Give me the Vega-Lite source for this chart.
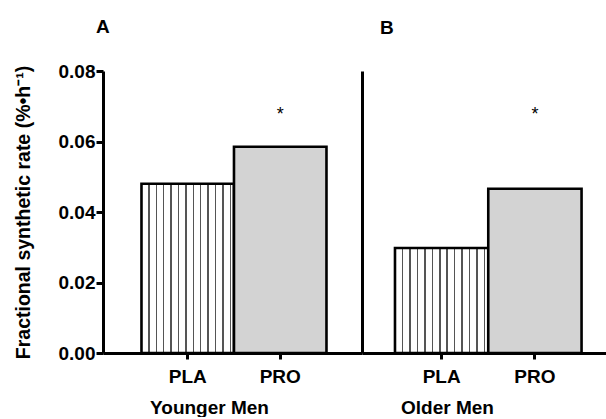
{
  "$schema": "https://vega.github.io/schema/vega-lite/v6.json",
  "background": "white",
  "padding": {"left": 13, "top": 18, "right": 0, "bottom": 0},
  "data": {
    "values": [
      {"group": "Younger Men", "treatment": "PLA", "fsr": 0.048, "sig": ""},
      {"group": "Younger Men", "treatment": "PRO", "fsr": 0.0585, "sig": "*"},
      {"group": "Older Men", "treatment": "PLA", "fsr": 0.0298, "sig": ""},
      {"group": "Older Men", "treatment": "PRO", "fsr": 0.0466, "sig": "*"}
    ]
  },
  "spacing": 0,
  "hconcat": [
    {
      "title": {"text": "A", "anchor": "start", "frame": "group", "dx": -7, "offset": 25},
      "width": 259,
      "height": 282,
      "transform": [{"filter": "datum.group === 'Younger Men'"}],
      "encoding": {
        "x": {
          "field": "treatment", "type": "nominal", "sort": ["PLA", "PRO"],
          "scale": {"paddingInner": 0, "paddingOuter": 0.4, "align": 0.52},
          "axis": {"title": "Younger Men", "labelAngle": 0, "tickSize": 6, "labelPadding": 8, "titlePadding": 12, "titleX": 106}
        }
      },
      "layer": [
        {
          "mark": {"type": "bar", "stroke": "black", "strokeWidth": 2.6},
          "encoding": {
            "y": {
              "field": "fsr", "type": "quantitative",
              "scale": {"domain": [0, 0.08], "nice": false},
              "axis": {"title": "Fractional synthetic rate  (%•h⁻¹)", "titleFontSize": 19.5, "values": [0, 0.02, 0.04, 0.06, 0.08], "format": ".2f", "tickSize": 7, "labelPadding": 1, "titlePadding": 25}
            },
            "fill": {
              "condition": {
                "test": "datum.treatment === 'PLA'",
                "value": {
                  "gradient": "linear", "x1": 0, "x2": 1, "y1": 0, "y2": 0,
                  "stops": [
                    {"offset": 0, "color": "white"},
                    {"offset": 0.072, "color": "white"}, {"offset": 0.072, "color": "#555555"}, {"offset": 0.088, "color": "#555555"}, {"offset": 0.088, "color": "white"},
                    {"offset": 0.152, "color": "white"}, {"offset": 0.152, "color": "#555555"}, {"offset": 0.168, "color": "#555555"}, {"offset": 0.168, "color": "white"},
                    {"offset": 0.232, "color": "white"}, {"offset": 0.232, "color": "#555555"}, {"offset": 0.248, "color": "#555555"}, {"offset": 0.248, "color": "white"},
                    {"offset": 0.312, "color": "white"}, {"offset": 0.312, "color": "#555555"}, {"offset": 0.328, "color": "#555555"}, {"offset": 0.328, "color": "white"},
                    {"offset": 0.392, "color": "white"}, {"offset": 0.392, "color": "#555555"}, {"offset": 0.408, "color": "#555555"}, {"offset": 0.408, "color": "white"},
                    {"offset": 0.472, "color": "white"}, {"offset": 0.472, "color": "#555555"}, {"offset": 0.488, "color": "#555555"}, {"offset": 0.488, "color": "white"},
                    {"offset": 0.552, "color": "white"}, {"offset": 0.552, "color": "#555555"}, {"offset": 0.568, "color": "#555555"}, {"offset": 0.568, "color": "white"},
                    {"offset": 0.632, "color": "white"}, {"offset": 0.632, "color": "#555555"}, {"offset": 0.648, "color": "#555555"}, {"offset": 0.648, "color": "white"},
                    {"offset": 0.712, "color": "white"}, {"offset": 0.712, "color": "#555555"}, {"offset": 0.728, "color": "#555555"}, {"offset": 0.728, "color": "white"},
                    {"offset": 0.792, "color": "white"}, {"offset": 0.792, "color": "#555555"}, {"offset": 0.808, "color": "#555555"}, {"offset": 0.808, "color": "white"},
                    {"offset": 0.872, "color": "white"}, {"offset": 0.872, "color": "#555555"}, {"offset": 0.888, "color": "#555555"}, {"offset": 0.888, "color": "white"},
                    {"offset": 0.952, "color": "white"}, {"offset": 0.952, "color": "#555555"}, {"offset": 0.968, "color": "#555555"}, {"offset": 0.968, "color": "white"},
                    {"offset": 1, "color": "white"}
                  ]
                }
              },
              "value": "#d3d3d3"
            }
          }
        },
        {
          "transform": [{"filter": "datum.sig === '*'"}],
          "mark": {"type": "text", "fontSize": 18, "baseline": "alphabetic", "font": "Liberation Sans", "color": "black"},
          "encoding": {
            "y": {"datum": 0.066, "type": "quantitative"},
            "text": {"field": "sig"}
          }
        }
      ]
    },
    {
      "title": {"text": "B", "anchor": "start", "frame": "group", "dx": 18, "offset": 33},
      "width": 250,
      "height": 282,
      "transform": [{"filter": "datum.group === 'Older Men'"}],
      "encoding": {
        "x": {
          "field": "treatment", "type": "nominal", "sort": ["PLA", "PRO"],
          "scale": {"paddingInner": 0, "paddingOuter": 0.34, "align": 0.52},
          "axis": {"title": "Older Men", "labelAngle": 0, "tickSize": 6, "labelPadding": 8, "titlePadding": 12, "titleX": 85}
        }
      },
      "layer": [
        {
          "mark": {"type": "bar", "stroke": "black", "strokeWidth": 2.6},
          "encoding": {
            "y": {
              "field": "fsr", "type": "quantitative",
              "scale": {"domain": [0, 0.08], "nice": false},
              "axis": {"title": null, "labels": false, "ticks": false}
            },
            "fill": {
              "condition": {
                "test": "datum.treatment === 'PLA'",
                "value": {
                  "gradient": "linear", "x1": 0, "x2": 1, "y1": 0, "y2": 0,
                  "stops": [
                    {"offset": 0, "color": "white"},
                    {"offset": 0.072, "color": "white"}, {"offset": 0.072, "color": "#555555"}, {"offset": 0.088, "color": "#555555"}, {"offset": 0.088, "color": "white"},
                    {"offset": 0.152, "color": "white"}, {"offset": 0.152, "color": "#555555"}, {"offset": 0.168, "color": "#555555"}, {"offset": 0.168, "color": "white"},
                    {"offset": 0.232, "color": "white"}, {"offset": 0.232, "color": "#555555"}, {"offset": 0.248, "color": "#555555"}, {"offset": 0.248, "color": "white"},
                    {"offset": 0.312, "color": "white"}, {"offset": 0.312, "color": "#555555"}, {"offset": 0.328, "color": "#555555"}, {"offset": 0.328, "color": "white"},
                    {"offset": 0.392, "color": "white"}, {"offset": 0.392, "color": "#555555"}, {"offset": 0.408, "color": "#555555"}, {"offset": 0.408, "color": "white"},
                    {"offset": 0.472, "color": "white"}, {"offset": 0.472, "color": "#555555"}, {"offset": 0.488, "color": "#555555"}, {"offset": 0.488, "color": "white"},
                    {"offset": 0.552, "color": "white"}, {"offset": 0.552, "color": "#555555"}, {"offset": 0.568, "color": "#555555"}, {"offset": 0.568, "color": "white"},
                    {"offset": 0.632, "color": "white"}, {"offset": 0.632, "color": "#555555"}, {"offset": 0.648, "color": "#555555"}, {"offset": 0.648, "color": "white"},
                    {"offset": 0.712, "color": "white"}, {"offset": 0.712, "color": "#555555"}, {"offset": 0.728, "color": "#555555"}, {"offset": 0.728, "color": "white"},
                    {"offset": 0.792, "color": "white"}, {"offset": 0.792, "color": "#555555"}, {"offset": 0.808, "color": "#555555"}, {"offset": 0.808, "color": "white"},
                    {"offset": 0.872, "color": "white"}, {"offset": 0.872, "color": "#555555"}, {"offset": 0.888, "color": "#555555"}, {"offset": 0.888, "color": "white"},
                    {"offset": 0.952, "color": "white"}, {"offset": 0.952, "color": "#555555"}, {"offset": 0.968, "color": "#555555"}, {"offset": 0.968, "color": "white"},
                    {"offset": 1, "color": "white"}
                  ]
                }
              },
              "value": "#d3d3d3"
            }
          }
        },
        {
          "transform": [{"filter": "datum.sig === '*'"}],
          "mark": {"type": "text", "fontSize": 18, "baseline": "alphabetic", "font": "Liberation Sans", "color": "black"},
          "encoding": {
            "y": {"datum": 0.066, "type": "quantitative"},
            "text": {"field": "sig"}
          }
        }
      ]
    }
  ],
  "config": {
    "view": {"stroke": null},
    "font": "Liberation Sans",
    "axis": {
      "grid": false,
      "domainColor": "black",
      "domainWidth": 3,
      "tickColor": "black",
      "tickWidth": 3,
      "labelFont": "Liberation Sans",
      "labelFontWeight": "bold",
      "labelFontSize": 19,
      "labelColor": "black",
      "titleFont": "Liberation Sans",
      "titleFontWeight": "bold",
      "titleFontSize": 19,
      "titleColor": "black"
    },
    "title": {
      "font": "Liberation Sans",
      "fontSize": 19,
      "fontWeight": "bold",
      "color": "black"
    }
  }
}
